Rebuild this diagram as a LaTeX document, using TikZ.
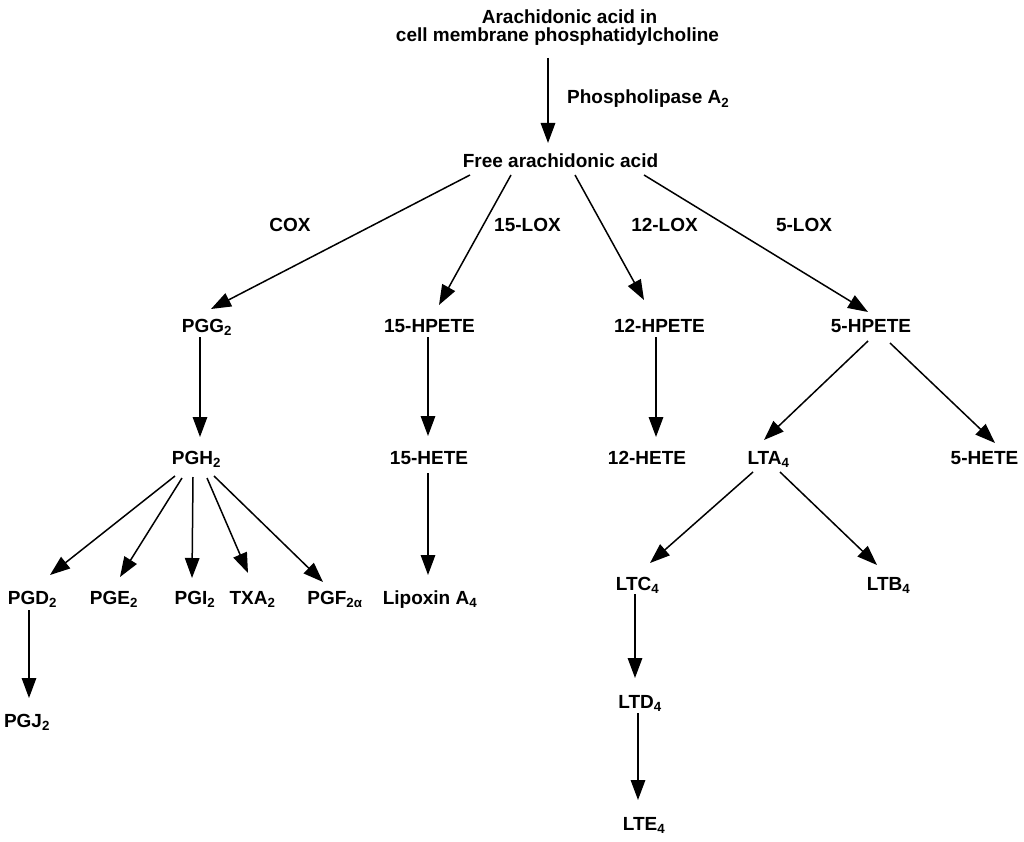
\documentclass[tikz,border=0pt]{standalone}
\usepackage{fontspec}
\setmainfont{Liberation Sans}
\usetikzlibrary{arrows.meta,calc}
\begin{document}
\begin{tikzpicture}[x=1pt,y=-1pt,
  lbl/.style={inner sep=0pt, anchor=base, font=\fontsize{19}{19}\selectfont\bfseries},
  arr/.style={line width=1.5pt, -{Triangle[length=20pt,width=14.5pt]}}]
\fill[white] (0,0) rectangle (1024,842);
\useasboundingbox (0,0) rectangle (1024,842);
% nodes
\node[lbl] (title1) at (569.5,24) {Arachidonic acid in};
\node[lbl] (title2) at (557.5,42) {cell membrane phosphatidylcholine};
\node[lbl,anchor=base west] (pla) at (567,104) {Phospholipase A\textsubscript{2}};
\node[lbl] (free) at (560.5,168) {Free arachidonic acid};
\node[lbl] (cox) at (290,232) {COX};
\node[lbl] (lox15) at (527.5,232) {15-LOX};
\node[lbl] (lox12) at (664.5,232) {12-LOX};
\node[lbl] (lox5) at (804,232) {5-LOX};
\node[lbl] (pgg) at (207,332) {PGG\textsubscript{2}};
\node[lbl] (hpete15) at (429.5,332) {15-HPETE};
\node[lbl] (hpete12) at (659.5,332) {12-HPETE};
\node[lbl] (hpete5) at (871,332) {5-HPETE};
\node[lbl] (pgh) at (196.5,464) {PGH\textsubscript{2}};
\node[lbl] (hete15) at (429,464) {15-HETE};
\node[lbl] (hete12) at (647,464) {12-HETE};
\node[lbl] (lta) at (768.5,464) {LTA\textsubscript{4}};
\node[lbl] (hete5) at (984.5,464) {5-HETE};
\node[lbl] (pgd) at (32.5,604) {PGD\textsubscript{2}};
\node[lbl] (pge) at (114,604) {PGE\textsubscript{2}};
\node[lbl] (pgi) at (195,604) {PGI\textsubscript{2}};
\node[lbl] (txa) at (252.5,604) {TXA\textsubscript{2}};
\node[lbl] (pgf) at (335,604) {PGF\textsubscript{2α}};
\node[lbl] (lipoxin) at (430,604) {Lipoxin A\textsubscript{4}};
\node[lbl] (pgj) at (27,727) {PGJ\textsubscript{2}};
\node[lbl] (ltc) at (637.5,590) {LTC\textsubscript{4}};
\node[lbl] (ltb) at (888.5,590) {LTB\textsubscript{4}};
\node[lbl] (ltd) at (640,708) {LTD\textsubscript{4}};
\node[lbl] (lte) at (644,830) {LTE\textsubscript{4}};
% connectors
\draw[arr] ($(title2.base)+(-9.5,16)$) -- ($(free.base)+(-12.5,-25)$);
\draw[arr] ($(free.base)+(-90.5,7)$) -- ($(pgg.base)+(4,-23)$);
\draw[arr] ($(free.base)+(-49.5,7)$) -- ($(hpete15.base)+(9.5,-27)$);
\draw[arr] ($(free.base)+(14.5,7)$) -- ($(hpete12.base)+(-15.5,-32)$);
\draw[arr] ($(free.base)+(83.5,7)$) -- ($(hpete5.base)+(-3,-20)$);
\draw[arr] ($(pgg.base)+(-7,5)$) -- ($(pgh.base)+(3.5,-27)$);
\draw[arr] ($(hpete15.base)+(-1.5,5)$) -- ($(hete15.base)+(-1,-28)$);
\draw[arr] ($(hpete12.base)+(-3.5,5)$) -- ($(hete12.base)+(9,-27)$);
\draw[arr] ($(hpete5.base)+(-3,9)$) -- ($(lta.base)+(-4.5,-24)$);
\draw[arr] ($(hpete5.base)+(19,11)$) -- ($(hete5.base)+(10.5,-21)$);
\draw[arr] ($(pgh.base)+(-21.5,12)$) -- ($(pgd.base)+(17.5,-29)$);
\draw[arr] ($(pgh.base)+(-14.5,14)$) -- ($(pge.base)+(6,-27)$);
\draw[arr] ($(pgh.base)+(-3.5,13)$) -- ($(pgi.base)+(-3,-26)$);
\draw[arr] ($(pgh.base)+(10.5,14)$) -- ($(txa.base)+(-4.5,-31)$);
\draw[arr] ($(pgh.base)+(17.5,12)$) -- ($(pgf.base)+(-12,-22)$);
\draw[arr] ($(hete15.base)+(-1,9)$) -- ($(lipoxin.base)+(-2,-29)$);
\draw[arr] ($(pgd.base)+(-3.5,6)$) -- ($(pgj.base)+(2,-29)$);
\draw[arr] ($(lta.base)+(-15.5,8)$) -- ($(ltc.base)+(12.5,-27)$);
\draw[arr] ($(lta.base)+(11.5,8)$) -- ($(ltb.base)+(-11.5,-25)$);
\draw[arr] ($(ltc.base)+(-2.5,4)$) -- ($(ltd.base)+(-5,-30)$);
\draw[arr] ($(ltd.base)+(-2,5)$) -- ($(lte.base)+(-6,-30)$);
\end{tikzpicture}
\end{document}
